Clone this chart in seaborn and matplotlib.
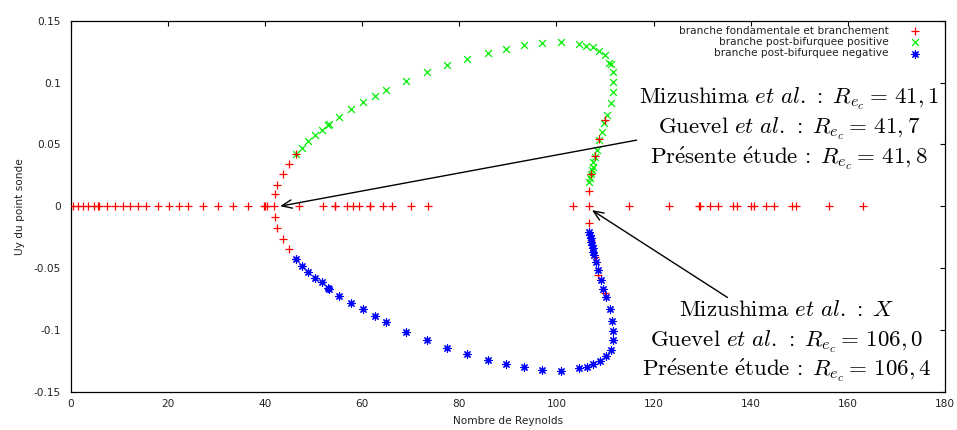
import numpy as np
import pandas as pd
import matplotlib
matplotlib.use("Agg")
import matplotlib.pyplot as plt
import seaborn as sns

# ---------------- data ----------------
fund_re = [0.4, 1.4, 2.5, 3.5, 4.7, 5.7, 5.8, 7.4, 9.1, 10.7, 12.3, 13.9, 15.6, 18.0,
           20.3, 22.3, 24.2, 27.3, 30.4, 33.5, 36.6, 39.7, 40.0, 40.35, 41.9, 47.0,
           51.9, 54.4, 54.5, 56.8, 58.2, 59.4, 61.6, 61.7, 64.2, 66.1, 70.0, 73.6,
           103.35, 106.6, 114.9, 123.25, 129.35, 129.6, 131.6, 133.3, 136.4, 137.1,
           140.0, 140.7, 143.1, 144.7, 148.4, 149.4, 156.2, 163.1]
fund_uy = [0.0] * len(fund_re)

branch_re = [42.06, 42.5, 43.6, 44.9, 46.3, 42.06, 42.5, 43.6, 44.9, 46.3,
             106.7, 107.1, 107.9, 108.8, 110.0, 106.7, 107.1, 108.0, 108.6, 110.0]
branch_uy = [0.0095, 0.0175, 0.0264, 0.0345, 0.0426, -0.0086, -0.018, -0.0267, -0.0348, -0.0431,
             0.0124, 0.026, 0.0404, 0.054, 0.0695, -0.0135, -0.027, -0.041, -0.0558, -0.0701]

pos_re = [46.33, 47.56, 48.93, 50.3, 51.68, 53.04, 53.2, 55.3, 57.65, 60.2, 62.65, 64.9,
          69.0, 73.3, 77.4, 81.65, 86.0, 89.6, 93.4, 97.1, 100.9, 104.7, 106.1, 107.6,
          108.8, 109.9, 110.9, 111.2, 111.6, 111.7, 111.6, 111.2, 110.35, 109.8, 109.3,
          108.8, 108.3, 107.95, 107.6, 107.5, 107.3, 107.1, 106.9, 106.8]
pos_uy = [0.0426, 0.0474, 0.0526, 0.0574, 0.0615, 0.0660, 0.0663, 0.0722, 0.0782, 0.0841,
          0.0889, 0.0938, 0.101, 0.1083, 0.114, 0.1194, 0.1242, 0.1275, 0.1307, 0.1321,
          0.1329, 0.131, 0.1296, 0.1288, 0.1256, 0.122, 0.1159, 0.1148, 0.1086, 0.1005,
          0.0924, 0.0835, 0.0741, 0.0669, 0.0601, 0.0539, 0.0453, 0.0399, 0.0358, 0.0318,
          0.0291, 0.0259, 0.0224, 0.0197]

neg_re = [46.33, 47.56, 48.93, 50.3, 51.68, 53.04, 53.2, 55.3, 57.65, 60.2, 62.65, 64.9,
          69.0, 73.3, 77.4, 81.65, 86.0, 89.6, 93.4, 97.1, 100.9, 104.7, 106.2, 107.6,
          109.0, 110.2, 111.2, 111.6, 111.6, 111.4, 111.0, 110.2, 109.65, 109.2, 108.6,
          108.15, 107.75, 107.6, 107.5, 107.3, 107.2, 107.05, 106.9, 106.8]
neg_uy = [-0.0431, -0.0483, -0.0531, -0.0577, -0.0617, -0.066, -0.0666, -0.0725, -0.0782,
          -0.0835, -0.0889, -0.094, -0.1016, -0.1083, -0.1145, -0.1197, -0.1245, -0.128,
          -0.1304, -0.1326, -0.1331, -0.1312, -0.1299, -0.1277, -0.1251, -0.1213, -0.1159,
          -0.1083, -0.1008, -0.0927, -0.0835, -0.0733, -0.0666, -0.0593, -0.0517, -0.045,
          -0.0396, -0.0369, -0.0342, -0.0315, -0.0288, -0.0261, -0.0234, -0.0208]

labels = ["branche fondamentale et branchement",
          "branche post-bifurquee positive",
          "branche post-bifurquee negative"]
x_ticks = [0, 20, 40, 60, 80, 100, 120, 140, 160, 180]
y_ticks = [-0.15, -0.1, -0.05, 0, 0.05, 0.1, 0.15]
y_ticklabels = ["-0.15", "-0.1", "-0.05", "0", "0.05", "0.1", "0.15"]

ann1 = [r"$\mathrm{Mizushima}\ \mathit{et\ al}\mathrm{.}\,\mathrm{:}\;R_{e_c}=\,41,1$",
        r"$\mathrm{Guevel}\ \mathit{et\ al}\mathrm{.}\,\mathrm{:}\;R_{e_c}=\,41,7$",
        r"$\mathrm{Pr\acute{e}sente\ \acute{e}tude}\,\mathrm{:}\;R_{e_c}=\,41,8$"]
ann2 = [r"$\mathrm{Mizushima}\ \mathit{et\ al}\mathrm{.}\,\mathrm{:}\;X$",
        r"$\mathrm{Guevel}\ \mathit{et\ al}\mathrm{.}\,\mathrm{:}\;R_{e_c}=\,106,0$",
        r"$\mathrm{Pr\acute{e}sente\ \acute{e}tude}\,\mathrm{:}\;R_{e_c}=\,106,4$"]

# ---------------- plot ----------------
sns.set_theme(style="white")
plt.rcParams["font.family"] = ["DejaVu Sans"]
plt.rcParams["mathtext.fontset"] = "cm"

fig = plt.figure(figsize=(9.57, 4.30), dpi=100)
ax = fig.add_axes([0.0739, 0.0891, 0.9136, 0.8628])

red_df = pd.DataFrame({"Re": fund_re + branch_re, "Uy": fund_uy + branch_uy})
pos_df = pd.DataFrame({"Re": pos_re, "Uy": pos_uy})
neg_df = pd.DataFrame({"Re": neg_re, "Uy": neg_uy})

sns.scatterplot(data=red_df, x="Re", y="Uy", marker="+", color="#ff0000", s=30,
                linewidth=0.9, ax=ax, label=labels[0], zorder=3)
sns.scatterplot(data=pos_df, x="Re", y="Uy", marker="x", color="#00ee00", s=24,
                linewidth=0.9, ax=ax, label=labels[1], zorder=2)
sns.scatterplot(data=neg_df, x="Re", y="Uy", marker=(8, 2, 0), color="#0000ff", s=28,
                linewidth=0.85, ax=ax, label=labels[2], zorder=4)

ax.set_xlim(0, 180)
ax.set_ylim(-0.15, 0.15)
ax.set_xticks(x_ticks)
ax.set_xticklabels([str(t) for t in x_ticks])
ax.set_yticks(y_ticks)
ax.set_yticklabels(y_ticklabels)
ax.tick_params(axis="both", direction="in", length=3.5, width=0.8, colors="black",
               labelsize=7.6, top=True, right=True, labelcolor="#222222")
ax.tick_params(axis="y", pad=7)
ax.tick_params(axis="x", pad=5.5)
for sp in ax.spines.values():
    sp.set_color("black")
    sp.set_linewidth(0.9)

ax.set_xlabel("Nombre de Reynolds", fontsize=7.6, labelpad=5, color="#222222")
ax.set_ylabel("Uy du point sonde", fontsize=7.6, labelpad=6, color="#222222")

leg = ax.legend(loc="upper right", frameon=False, markerfirst=False, fontsize=7.6,
                labelspacing=0.12, handlelength=1.0, handletextpad=2.0,
                borderaxespad=0.3, borderpad=0.2, bbox_to_anchor=(0.978, 1.0))
for t in leg.get_texts():
    t.set_color("#222222")

# annotation texts (pixel positions converted to figure fractions)
W, H = 957.0, 430.0
for i, s in enumerate(ann1):
    fig.text(789 / W, 1 - (103.5 + 30 * i) / H, s, ha="center", va="baseline",
             fontsize=16.5, color="black")
for i, s in enumerate(ann2):
    fig.text(787 / W, 1 - (316.5 + 29.5 * i) / H, s, ha="center", va="baseline",
             fontsize=16.5, color="black")

arrow = dict(arrowstyle="->,head_length=0.6,head_width=0.25", color="black", lw=1.0,
             shrinkA=0, shrinkB=0)
ax.annotate("", xy=(43.1, 0.0), xytext=(116.5, 0.0534), arrowprops=arrow)
ax.annotate("", xy=(107.3, -0.0032), xytext=(135.2, -0.0738), arrowprops=arrow)

fig.savefig("out.png", dpi=100)
